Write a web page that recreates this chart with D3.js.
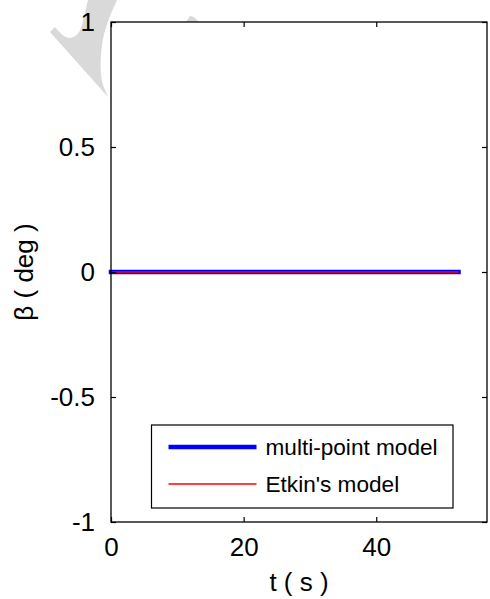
<!DOCTYPE html>
<html>
<head>
<meta charset="utf-8">
<script src="https://cdn.jsdelivr.net/npm/d3@7"></script>
<style>
  html, body { margin: 0; padding: 0; background: #fff; }
  svg { display: block; }
  text { font-family: "Liberation Sans", Arial, sans-serif; fill: #000; }
</style>
</head>
<body>
<svg id="chart" width="490" height="599"></svg>
<script>
// Sideslip angle response, two models
const timeS = [0, 5, 10, 15, 20, 25, 30, 35, 40, 45, 50, 52.4];
const betaMultiPoint = [0, 0, 0, 0, 0, 0, 0, 0, 0, 0, 0, 0];
const betaEtkin = [0, 0, 0, 0, 0, 0, 0, 0, 0, 0, 0, 0];
const xTicks = [0, 20, 40];
const yTicks = [-1, -0.5, 0, 0.5, 1];
const yTickLabels = ["-1", "-0.5", "0", "0.5", "1"];
const seriesNames = ["multi-point model", "Etkin's model"];
const seriesColors = ["#0000ff", "#ff0000"];

const W = 490, H = 599;
const margin = { top: 22, right: 3, bottom: 77, left: 111 };
const iw = W - margin.left - margin.right;
const ih = H - margin.top - margin.bottom;

const svg = d3.select("#chart");

// faint grey mark in the top-left margin, behind the axes
const wm = svg.append("g").attr("fill", "#d9d9d9");
wm.append("path").attr("d",
  "M88,0 L117,0 C110,15 104,30 102,45 C100,60 100,75 103,85 L108,97 " +
  "L50,32 L55,27 C60,33 64,37 69,38 C75,38 80,33 82,25 Z");
wm.append("path").attr("d", "M186,22 L190,16 L194,17 L199,22 Z");

const g = svg.append("g").attr("transform", `translate(${margin.left},${margin.top})`);

const x = d3.scaleLinear().domain([0, 56.7]).range([0, iw]);
const y = d3.scaleLinear().domain([-1, 1]).range([ih, 0]);

// plot background
g.append("rect").attr("width", iw).attr("height", ih).attr("fill", "#fff");

// data lines
const line = vals => d3.line().x((d, i) => x(timeS[i])).y(d => y(d))(vals);
g.append("path").attr("d", line(betaMultiPoint))
  .attr("fill", "none").attr("stroke", seriesColors[0]).attr("stroke-width", 4.5)
  .attr("stroke-linecap", "square");
g.append("path").attr("d", line(betaEtkin))
  .attr("fill", "none").attr("stroke", seriesColors[1]).attr("stroke-width", 1.3);

// axes with inward ticks on all four sides
const tickLen = 5;
const styleAxis = sel => {
  sel.select(".domain").remove();
  sel.selectAll(".tick line").attr("stroke", "#000").attr("stroke-width", 1.2);
};
g.append("g").attr("transform", `translate(0,${ih})`)
  .call(d3.axisBottom(x).tickValues(xTicks).tickSize(-tickLen).tickPadding(16).tickFormat(d3.format("d")))
  .call(styleAxis)
  .selectAll("text").attr("font-size", 26).attr("dy", "0.71em").attr("font-family", "Liberation Sans, Arial, sans-serif");
g.append("g")
  .call(d3.axisTop(x).tickValues(xTicks).tickSize(-tickLen).tickFormat(""))
  .call(styleAxis);
g.append("g")
  .call(d3.axisLeft(y).tickValues(yTicks).tickSize(-tickLen).tickPadding(16)
    .tickFormat((d, i) => yTickLabels[i]))
  .call(styleAxis)
  .selectAll("text").attr("font-size", 26).attr("font-family", "Liberation Sans, Arial, sans-serif");
g.append("g").attr("transform", `translate(${iw},0)`)
  .call(d3.axisRight(y).tickValues(yTicks).tickSize(-tickLen).tickFormat(""))
  .call(styleAxis);

// box
g.append("rect").attr("width", iw).attr("height", ih)
  .attr("fill", "none").attr("stroke", "#000").attr("stroke-width", 1.3);

// axis titles
svg.append("text").attr("x", margin.left + iw / 2).attr("y", 591)
  .attr("text-anchor", "middle").attr("font-size", 26).text("t ( s )");
svg.append("text")
  .attr("transform", `translate(33,${margin.top + ih / 2}) rotate(-90)`)
  .attr("text-anchor", "middle").attr("font-size", 26).text("β ( deg )");

// legend
const lg = svg.append("g").attr("transform", "translate(151.5,425)");
lg.append("rect").attr("width", 301.5).attr("height", 83)
  .attr("fill", "#fff").attr("stroke", "#000").attr("stroke-width", 1.2);
const rowsY = [22, 59];
const widths = [4.5, 1.3];
seriesNames.forEach((name, i) => {
  lg.append("line").attr("x1", 17).attr("x2", 105).attr("y1", rowsY[i]).attr("y2", rowsY[i])
    .attr("stroke", seriesColors[i]).attr("stroke-width", widths[i]);
  lg.append("text").attr("x", 114).attr("y", rowsY[i]).attr("dy", "0.36em")
    .attr("font-size", 22.6).text(name);
});
</script>
</body>
</html>
